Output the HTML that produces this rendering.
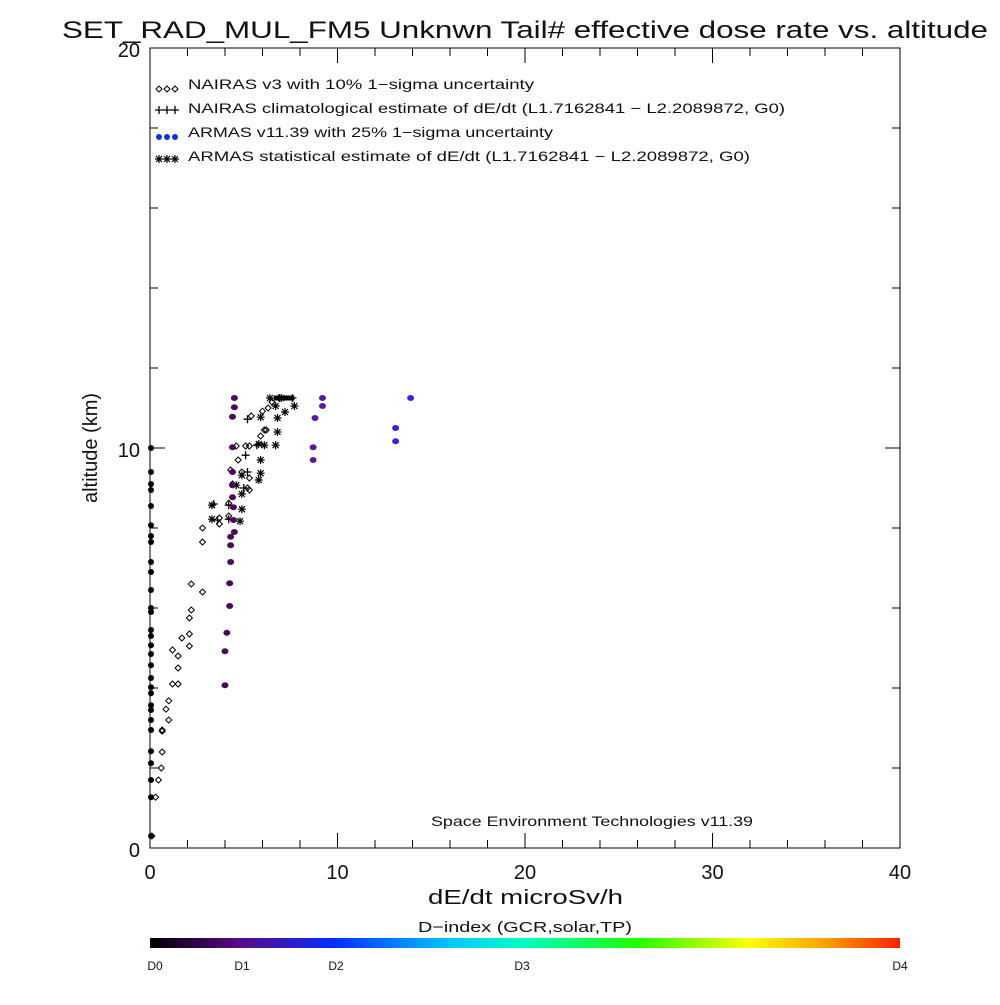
<!DOCTYPE html>
<html><head><meta charset="utf-8"><style>
body{margin:0;background:#fff;}
svg text{font-family:"Liberation Sans","DejaVu Sans",sans-serif;fill:#111;}
</style></head><body>
<svg id="chart" width="1000" height="1000" xmlns="http://www.w3.org/2000/svg">
<defs><linearGradient id="cb" x1="0" x2="1" y1="0" y2="0">
<stop offset="0" stop-color="#000"/><stop offset="0.12" stop-color="#5a0a8a"/><stop offset="0.25" stop-color="#0030ff"/>
<stop offset="0.4" stop-color="#00c8ff"/><stop offset="0.5" stop-color="#00ffc0"/><stop offset="0.65" stop-color="#20ff00"/>
<stop offset="0.8" stop-color="#ffff00"/><stop offset="0.9" stop-color="#ffa000"/><stop offset="1" stop-color="#ff2000"/></linearGradient></defs>
<text x="62" y="38" font-size="24" textLength="926" lengthAdjust="spacingAndGlyphs">SET_RAD_MUL_FM5 Unknwn Tail#  effective dose rate vs. altitude</text>
<g id="axes"></g>
<g id="marks"></g>
<g font-size="14">
<text x="188" y="89" textLength="346" lengthAdjust="spacingAndGlyphs">NAIRAS v3 with 10% 1−sigma uncertainty</text>
<text x="188" y="113" textLength="597" lengthAdjust="spacingAndGlyphs">NAIRAS climatological estimate of dE/dt (L1.7162841 − L2.2089872, G0)</text>
<text x="188" y="137" textLength="365" lengthAdjust="spacingAndGlyphs">ARMAS v11.39 with 25% 1−sigma uncertainty</text>
<text x="188" y="161" textLength="562" lengthAdjust="spacingAndGlyphs">ARMAS statistical estimate of dE/dt (L1.7162841 − L2.2089872, G0)</text>
<g id="legmarks"></g>
</g>
<text x="431" y="826" font-size="14" textLength="322" lengthAdjust="spacingAndGlyphs">Space Environment Technologies v11.39</text>
<text transform="translate(97,448) rotate(-90)" font-size="20" text-anchor="middle">altitude (km)</text>
<text x="428" y="904" font-size="20" textLength="195" lengthAdjust="spacingAndGlyphs">dE/dt microSv/h</text>
<text x="418" y="932" font-size="15" textLength="214" lengthAdjust="spacingAndGlyphs">D−index (GCR,solar,TP)</text>
<rect x="150" y="938" width="750" height="10" fill="url(#cb)"/>
<g font-size="12" text-anchor="middle">
<text x="155" y="970">D0</text><text x="242" y="970">D1</text><text x="336" y="970">D2</text><text x="522" y="970">D3</text><text x="900" y="970">D4</text></g>
</svg>
<script>
const xTicks=[0,10,20,30,40];
const yTicks=[0,10,20];
const zeroAlt=[10,9.4,8.95,8.55,8.07,7.65,7.15,6.45,5.9,5.45,5.07,4.85,4.57,4.25,4.02,3.87,3.57,3.2,2.95,2.42,2.12,1.7,1.27,0.3,9.1,7.8,6.9,6.0,5.3,3.45];
const nairasX=[2.2,2.8,2.2,2.1,2.1,1.7,2.1,1.2,1.5,1.5,1.2,1.5,1.0,0.85,1.0,0.65,0.65,0.65,0.6,0.45,0.3,0.1,2.8,3.7,2.8,3.7,4.2,4.2,6.0,5.4,5.3,5.3,5.2,6.2,5.3,6.3,6.5,4.9,4.7,4.6,4.3,4.4,5.1,5.9,6.1];
const nairasY=[6.6,6.4,5.95,5.75,5.35,5.25,5.05,4.95,4.8,4.5,4.1,4.1,3.68,3.47,3.2,2.95,2.92,2.4,2.0,1.7,1.27,0.3,8.0,8.25,7.65,8.1,8.3,8.62,10.92,10.8,9.25,8.95,9.0,10.45,10.05,11.0,11.15,9.4,9.7,10.05,9.45,9.1,10.05,10.3,10.45];
const climX=[4.2,4.2,5.0,5.2,5.1,5.7,5.2,6.9,7.6,3.4,3.6];
const climY=[8.57,8.22,9.0,9.4,9.82,10.07,10.72,11.25,11.25,8.6,8.2];
const armasX=[4.5,4.5,4.4,4.4,4.4,4.4,4.4,4.45,4.45,4.5,4.3,4.3,4.3,4.25,4.25,4.1,4.0,4.0,9.2,9.2,8.8,8.7,8.7,13.1,13.1,13.9];
const armasY=[11.25,11.02,10.78,10.02,9.4,9.07,8.77,8.52,8.2,7.9,7.78,7.57,7.15,6.62,6.05,5.38,4.92,4.07,11.25,11.05,10.75,10.02,9.7,10.5,10.17,11.25];
const armasD=[0.7,0.7,0.7,0.7,0.7,0.7,0.7,0.7,0.7,0.7,0.7,0.7,0.7,0.7,0.7,0.7,0.7,0.7,0.9,0.9,0.9,0.9,0.9,1.3,1.3,1.4];
const statX=[3.3,3.3,4.8,4.9,4.9,4.9,5.9,5.9,6.1,6.7,6.8,6.8,6.7,7.7,5.9,5.8,4.6,5.8,6.4,7.0,7.2];
const statY=[8.57,8.22,8.17,8.47,8.85,9.32,9.37,9.7,10.07,10.07,10.4,10.75,11.05,11.05,10.77,9.2,9.07,10.1,11.25,11.25,10.9];
const NS="http://www.w3.org/2000/svg";
const X=v=>150+v*18.75, Y=v=>848-v*40;
function mk(tag,attrs,parent){const e=document.createElementNS(NS,tag);for(const k in attrs)e.setAttribute(k,attrs[k]);parent.appendChild(e);return e;}
const axes=document.getElementById('axes'), marks=document.getElementById('marks');
const box=mk('rect',{x:150,y:48,width:750,height:800,fill:'none',stroke:'#000','stroke-width':1},axes);


for(let v=0;v<=40;v+=2){const maj=v%10===0;const L=maj?15:8;
 mk('line',{x1:X(v),x2:X(v),y1:848,y2:848-L,stroke:'#000'},axes);
 mk('line',{x1:X(v),x2:X(v),y1:48,y2:48+L,stroke:'#000'},axes);}
for(let v=0;v<=20;v+=2){const maj=v%10===0;const L=maj?15:8;
 mk('line',{x1:150,x2:150+L,y1:Y(v),y2:Y(v),stroke:'#000'},axes);
 mk('line',{x1:900,x2:900-L,y1:Y(v),y2:Y(v),stroke:'#000'},axes);}
xTicks.forEach(v=>{const t=mk('text',{x:X(v),y:879,'font-size':20,'text-anchor':'middle'},axes);t.textContent=v;
 
 });
yTicks.forEach(v=>{const t=mk('text',{x:140,y:Y(v)+9,'font-size':20,'text-anchor':'end'},axes);t.textContent=v;
 
 });
function diamond(x,y,p){return mk('path',{d:`M${x} ${y-3}L${x+3} ${y}L${x} ${y+3}L${x-3} ${y}Z`,fill:'none',stroke:'#000','stroke-width':1},p);}
function plus(x,y,p){return mk('path',{d:`M${x-4} ${y}H${x+4}M${x} ${y-4}V${y+4}`,stroke:'#000','stroke-width':1.3,fill:'none'},p);}
function star(x,y,p){return mk('path',{d:`M${x-4} ${y}H${x+4}M${x} ${y-4}V${y+4}M${x-3} ${y-3}L${x+3} ${y+3}M${x-3} ${y+3}L${x+3} ${y-3}`,stroke:'#000','stroke-width':1.2,fill:'none'},p);}
function dcol(d){return d<0.8?'#4a0a5a':(d<1.1?'#5a1a9a':'#3a20e0');}
zeroAlt.forEach(v=>{const c=mk('circle',{cx:X(0)+1,cy:Y(v),r:3,fill:'#000'},marks);
 
 });
nairasX.forEach((v,i)=>{const e=diamond(X(v),Y(nairasY[i]),marks);
 
 });
const bar=mk('line',{x1:X(6.6),x2:X(7.7),y1:Y(11.25),y2:Y(11.25),stroke:'#000','stroke-width':5},marks);


climX.forEach((v,i)=>{const e=plus(X(v),Y(climY[i]),marks);
 
 });
statX.forEach((v,i)=>{const e=star(X(v),Y(statY[i]),marks);
 
 });
armasX.forEach((v,i)=>{const c=mk('ellipse',{cx:X(v),cy:Y(armasY[i]),rx:3.5,ry:3,fill:dcol(armasD[i])},marks);
 
 });
const lg=document.getElementById('legmarks');
for(let k=0;k<3;k++){const x=159+k*8;
 diamond(x,89,lg);plus(x,110,lg);mk('circle',{cx:x,cy:137,r:3,fill:'#1030e0'},lg);star(x,159,lg);}
</script>
</body></html>
